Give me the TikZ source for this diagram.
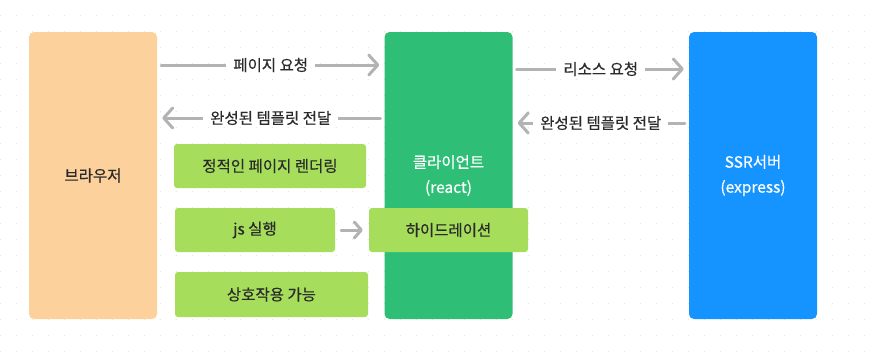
\documentclass[tikz,border=0pt]{standalone}
\usepackage{fontspec}
\setmainfont{Noto Sans CJK KR}[BoldFont=Noto Sans CJK KR, BoldFeatures={FakeBold=0.5}]
\usetikzlibrary{arrows.meta, positioning, calc}
\definecolor{ssrPeach}{HTML}{FCD19C}
\definecolor{ssrGreen}{HTML}{2EBE76}
\definecolor{ssrBlue}{HTML}{1593FF}
\definecolor{ssrLime}{HTML}{A6DE5C}
\definecolor{ssrGray}{HTML}{B3B3B3}
\definecolor{ssrDot}{HTML}{E4E4E4}
\definecolor{ssrText}{HTML}{2B2B2B}

\begin{document}
\begin{tikzpicture}[
  x=1pt, y=-1pt,
  font=\fontsize{15.5}{25}\selectfont\bfseries,
  %% --- Node styles ---
  column/.style={
    rectangle, rounded corners=5pt,
    minimum width=128pt, minimum height=287pt,
    inner sep=0pt, align=center
  },
  browserbox/.style={column, fill=ssrPeach, text=ssrText},
  clientbox/.style={column, fill=ssrGreen, text=white},
  serverbox/.style={column, fill=ssrBlue, text=white},
  stepbox/.style={
    rectangle, rounded corners=3pt,
    minimum height=44pt, inner sep=0pt,
    fill=ssrLime, text=ssrText
  },
  %% --- Arrow style ---
  flow/.style={-{Straight Barb[length=9pt, width=20pt, round]},
    line width=3pt, draw=ssrGray, line cap=round,
    shorten <=4pt, shorten >=5pt},
  flowSmall/.style={-{Straight Barb[length=7pt, width=16pt, round]},
    line width=3pt, draw=ssrGray, line cap=round,
    shorten <=6pt, shorten >=6pt},
  flowlabel/.style={midway, fill=white, text=ssrText, inner xsep=7pt, inner ysep=2pt}
]
\useasboundingbox (0,0) rectangle (871,364);

%% =========================================================
%% BACKGROUND — dot grid
%% =========================================================
\foreach \gx in {0,...,54}
  \foreach \gy in {0,...,22}
    \fill[ssrDot] (0.3+16*\gx, 15.7+16*\gy) circle (0.8);

%% =========================================================
%% NODES — three columns
%% =========================================================
\node (browser) [browserbox] at (93,175.5)  {브라우저};
\node (client)  [clientbox]  at (448.5,175.5) {클라이언트\\(react)};
\node (server)  [serverbox]  at (753,175.5) {SSR서버\\(express)};

%% =========================================================
%% STEP NODES — browser side
%% =========================================================
\node (render)  [stepbox, minimum width=192pt] at (270,166)   {정적인 페이지 렌더링};
\node (runjs)   [stepbox, minimum width=160pt] at (255,230)   {js 실행};
\node (hydrate) [stepbox, minimum width=159pt] at (448.5,230) {하이드레이션};
\node (interact)[stepbox, minimum width=193pt, minimum height=45pt] at (271.5,294.5) {상호작용 가능};

%% =========================================================
%% ARROWS
%% =========================================================
\coordinate (pageReq)  at (0,65);
\coordinate (pageBack) at (0,118);
\coordinate (resReq)   at (0,69);
\coordinate (resBack)  at (0,123);

\draw[flow] (browser.east |- pageReq)
    -- node[flowlabel]{페이지 요청} (client.west |- pageReq);
\draw[flow] (client.west |- pageBack)
    -- node[flowlabel]{완성된 템플릿 전달} (browser.east |- pageBack);
\draw[flow] (client.east |- resReq)
    -- node[flowlabel]{리소스 요청} (server.west |- resReq);
\draw[flow] (server.west |- resBack)
    -- node[flowlabel]{완성된 템플릿 전달} (client.east |- resBack);

%% js 실행 -> 하이드레이션
\draw[flowSmall] (runjs.east) -- (hydrate.west);

\end{tikzpicture}
\end{document}
